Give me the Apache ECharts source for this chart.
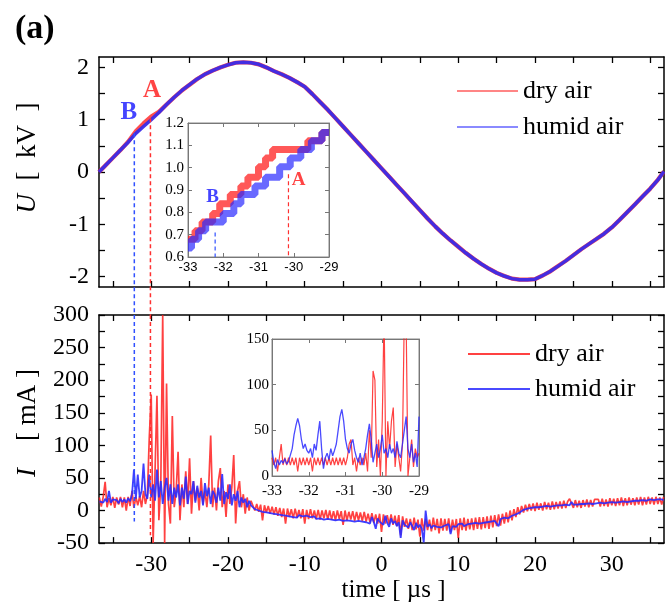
<!DOCTYPE html>
<html><head><meta charset="utf-8">
<script src="https://cdn.jsdelivr.net/npm/echarts@6/dist/echarts.min.js"></script>
<style>html,body{margin:0;padding:0;background:#fff}#c{width:665px;height:604px}</style>
</head><body><div id="c"></div>
<script>
// ---------------- DATA ----------------
// Top panel: voltage U [kV] vs time [µs]
const uTime = [-36.8,-36,-35,-34,-33,-32,-31,-30,-29,-28,-27,-26,-25,-24,-23,-22,-21,-20,-19,-18,-17,-16,-15,-14,-13,-12,-11,-10,-9,-8,-7,-6,-5,-4,-3,-2,-1,0,1,2,3,4,5,6,7,8,9,10,11,12,13,14,15,16,17,18,19,20,21,22,23,24,25,26,27,28,29,30,31,32,33,34,35,36,36.8];
const uHumid = [0.00,0.12,0.27,0.42,0.57,0.74,0.87,1.00,1.14,1.29,1.43,1.56,1.67,1.78,1.87,1.94,2.00,2.05,2.09,2.10,2.09,2.06,2.00,1.93,1.87,1.80,1.72,1.63,1.49,1.34,1.19,1.03,0.87,0.71,0.55,0.39,0.23,0.07,-0.09,-0.25,-0.41,-0.57,-0.73,-0.89,-1.04,-1.18,-1.31,-1.43,-1.55,-1.66,-1.76,-1.85,-1.93,-1.99,-2.04,-2.06,-2.06,-2.05,-1.98,-1.90,-1.80,-1.70,-1.59,-1.48,-1.38,-1.28,-1.18,-1.06,-0.92,-0.77,-0.62,-0.47,-0.32,-0.15,0.01];
const uDry   = [0.00,0.12,0.27,0.42,0.58,0.78,0.93,1.06,1.15,1.29,1.43,1.56,1.67,1.78,1.87,1.94,2.00,2.05,2.09,2.10,2.09,2.06,2.00,1.93,1.87,1.80,1.72,1.63,1.49,1.34,1.19,1.03,0.87,0.71,0.55,0.39,0.23,0.07,-0.09,-0.25,-0.41,-0.57,-0.73,-0.89,-1.04,-1.18,-1.31,-1.43,-1.55,-1.66,-1.76,-1.85,-1.93,-1.99,-2.04,-2.06,-2.06,-2.05,-1.98,-1.90,-1.80,-1.70,-1.59,-1.48,-1.38,-1.28,-1.18,-1.06,-0.92,-0.77,-0.62,-0.47,-0.32,-0.15,0.01];

// Bottom panel: current I [mA], sampled every 0.25 µs from -36.75 µs
const iStart = -36.75, iStep = 0.25;
const iDry = [
 20,6,21,44,5,19,8,21,4,20,9,21,5,20,0,21,7,30,4,21,
 8,22,5,30,10,24,112,178,-50,60,176,-15,40,300,-50,195,10,-20,145,5,
 30,90,-15,40,5,60,10,80,-5,45,15,35,0,50,10,30,5,40,115,5,
 35,0,45,65,5,30,-10,40,10,35,85,-20,30,45,5,25,-5,20,0,15,
 12,0,10,-2,9,-15,8,-3,7,-5,6,-6,5,-8,4,-10,3,-20,3,-10,
 2,-12,3,-11,1,-12,2,-20,1,-13,2,-12,0,-13,1,-14,0,-12,1,-14,
 0,-14,-1,-15,0,-13,-1,-22,0,-15,-2,-14,-1,-16,-2,-15,-3,-16,-2,-17,
 -5,-18,-4,-19,-6,-20,-5,-33,-6,-20,-7,-21,-6,-22,-8,-24,-7,-38,-9,-25,
 -12,-28,-13,-30,-11,-29,-14,-40,-12,-31,-13,-30,-14,-32,-11,-30,-13,-35,-12,-31,
 -13,-31,-12,-33,-14,-30,-13,-42,-12,-30,-11,-31,-13,-29,-12,-30,-11,-28,-10,-29,
 -10,-27,-9,-28,-8,-26,-7,-24,-6,-23,-5,-20,-3,-18,0,-15,2,-10,5,-6,
 7,-3,9,-1,10,0,11,-1,12,1,11,0,13,2,12,1,14,2,13,3,
 14,3,15,4,14,18,15,4,16,5,15,4,16,6,17,5,16,6,17,18,
 17,6,18,7,17,6,19,8,18,7,19,8,20,7,19,8,20,9,19,8,
 20,9,21,8,20,9,21,10,20,9,21,10,20,9,21
];
const iHumid = [
 14,17,12,18,13,30,12,17,14,16,11,18,13,17,12,19,14,25,63,18,
 55,20,30,72,25,18,55,20,40,15,63,20,45,10,35,50,15,40,10,35,
 20,40,8,35,18,52,10,30,25,45,12,38,20,30,8,42,22,35,10,30,
 25,12,35,15,56,10,28,18,40,8,25,15,30,5,20,12,18,5,15,8,
 7,2,5,0,3,-2,1,-3,0,-4,-2,-5,-3,-6,-4,-7,-5,-8,-6,-9,
 -7,-10,-8,-11,-7,-10,-9,-12,-8,-11,-10,-12,-9,-13,-11,-12,-10,-14,-11,-13,
 -12,-14,-11,-15,-13,-14,-12,-16,-13,-15,-14,-16,-13,-17,-14,-16,-15,-17,-14,-18,
 -15,-20,-10,-18,-28,-12,-17,-14,-22,-8,-19,-25,-12,-20,-16,-24,-18,-42,-15,-22,
 -20,-26,-18,-24,-30,-19,-26,-22,-28,-49,0,-25,-21,-27,-23,-20,-25,-22,-26,-24,
 -23,-26,-21,-36,-24,-22,-25,-21,-23,-20,-24,-22,-21,-23,-20,-22,-19,-21,-20,-18,
 -19,-17,-18,-16,-17,-15,-16,-14,-24,-13,-12,-11,-10,-12,-9,-8,-7,-6,-5,-3,
 -2,1,-1,3,1,4,2,5,3,5,3,6,4,7,4,6,5,7,5,8,
 5,8,6,9,6,8,13,9,7,9,7,10,8,10,8,11,9,10,9,11,
 9,12,10,11,10,12,11,13,10,12,11,13,11,14,12,13,12,14,12,15,
 13,15,12,16,14,15,13,17,14,16,14,17,15,17,16
];

// Top inset: U staircase, every 0.1 µs from -33 µs
const insUStart = -33, insUStep = 0.1;
const insUDry = [0.68,0.68,0.718,0.718,0.757,0.757,0.757,0.795,0.795,0.838,0.838,0.838,0.88,0.88,0.88,0.918,0.918,0.957,0.957,0.957,1.004,1.004,1.043,1.043,1.081,1.081,1.081,1.081,1.081,1.081,1.081,1.081,1.081,1.081,1.12,1.12,1.12,1.12,1.158,1.158,1.158];
const insUHumid = [0.64,0.68,0.68,0.718,0.718,0.757,0.757,0.757,0.757,0.757,0.795,0.795,0.795,0.838,0.838,0.88,0.88,0.88,0.88,0.918,0.918,0.918,0.957,0.957,0.957,0.957,1.004,1.004,1.004,1.043,1.043,1.043,1.081,1.081,1.081,1.12,1.12,1.12,1.158,1.158,1.158];

// Bottom inset: I, every 0.05 µs from -33 µs
const insIStart = -33, insIStep = 0.05;
const insIDry = [
 20,12,20,5,20,35,12,20,12,20,12,20,12,20,5,20,12,20,12,20,
 12,20,5,20,12,20,12,20,12,20,12,20,12,20,12,20,12,20,12,20,
 12,20,35,40,12,20,5,20,12,20,12,25,5,50,20,115,105,10,40,0,
 60,178,0,60,30,60,75,10,35,20,5,35,176,170,0,20,40,10,30,20,
 25
];
const insIHumid = [
 28,15,8,18,12,17,14,19,13,16,18,30,45,55,63,55,40,30,35,28,
 25,30,20,35,28,45,60,30,8,20,25,18,30,22,28,35,50,65,73,60,
 40,30,25,35,40,28,20,15,25,12,20,30,45,57,40,15,25,35,20,30,
 45,25,30,20,35,25,30,20,38,25,20,35,50,65,30,20,35,15,25,10,
 65
];

// Tick / label values
const tTicks = [-35,-30,-25,-20,-15,-10,-5,0,5,10,15,20,25,30,35];
const tLabels = [-30,-20,-10,0,10,20,30];
const uTicks = [-2,-1.5,-1,-0.5,0,0.5,1,1.5,2];
const uLabels = [-2,-1,0,1,2];
const iTicks = [-50,-25,0,25,50,75,100,125,150,175,200,225,250,275,300];
const iLabels = [-50,0,50,100,150,200,250,300];
const insTTicks = [-33,-32,-31,-30,-29];
const insUTicks = [0.6,0.7,0.8,0.9,1.0,1.1,1.2];
const insITicks = [0,50,100,150];

// Annotations (onset points A: dry air, B: humid air)
const onsetA = -30.1, onsetB = -32.2;

// ---------------- CHART ----------------
const SERIF = 'Liberation Serif', SANS = 'Liberation Sans';
const RED = '#ff2020', BLUE = '#2a2aff';
const pairs = (ts, vs) => vs.map((v, k) => [ts[k], v]);
const grid = (start, step, vs) => vs.map((v, k) => [Math.round((start + k * step) * 1000) / 1000, v]);

function axis(gi, pos, min, max, ticks, labels, o) {
  o = o || {};
  const inset = !!o.inset;
  const lc = inset ? '#777' : '#000';
  return Object.assign({
    type: 'value', gridIndex: gi, position: pos, min: min, max: max, z: inset ? 11 : 0,
    axisLine: { show: true, onZero: false, lineStyle: { color: lc, width: inset ? 1 : 1.5 } },
    axisTick: { show: true, inside: true, length: inset ? 4 : 6, customValues: ticks, lineStyle: { color: lc, width: inset ? 1 : 1.3 } },
    axisLabel: labels ? Object.assign({ show: true, customValues: labels, color: '#000', fontFamily: SERIF, fontSize: 24, margin: 10 }, o.label || {}) : { show: false },
    splitLine: { show: false }
  }, o.extra || {});
}

const chart = echarts.init(document.getElementById('c'), null, { renderer: 'canvas' });

const labelScatter = (xi, yi, items, size, z) => ({
  type: 'scatter', xAxisIndex: xi, yAxisIndex: yi, symbolSize: 1, silent: true, z: z,
  itemStyle: { color: 'rgba(0,0,0,0)' },
  label: { show: true, position: 'inside', fontFamily: SERIF, fontWeight: 'bold', fontSize: size },
  data: items
});
const guide = (xi, yi, pts, color, w, z) => ({
  type: 'line', name: '_g', xAxisIndex: xi, yAxisIndex: yi, clip: false, symbol: 'none', silent: true, z: z,
  lineStyle: { color: color, width: w, type: [4, 3] }, data: pts
});

const legendCommon = {
  data: ['dry air', 'humid air'], orient: 'vertical', icon: 'rect', itemHeight: 2,
  textStyle: { fontFamily: SERIF, fontSize: 26, lineHeight: 26, color: '#000' }
};

const option = {
  animation: false,
  backgroundColor: '#fff',
  textStyle: { fontFamily: SERIF },
  title: { text: '(a)', left: 10, top: 7, textStyle: { fontFamily: SERIF, fontWeight: 'bold', fontSize: 34, color: '#000' } },
  legend: [
    Object.assign({}, legendCommon, { left: 452, top: 73, itemWidth: 61, itemGap: 10, itemStyle: { opacity: 0.55 } }),
    Object.assign({}, legendCommon, { left: 463, top: 336, itemWidth: 62, itemGap: 9, itemStyle: { opacity: 0.85 } })
  ],
  grid: [
    { left: 99, top: 57, width: 565, height: 230 },
    { left: 99, top: 315, width: 565, height: 232 },
    { show: true, left: 188, top: 123, width: 141, height: 134, backgroundColor: '#fff', borderColor: '#888', borderWidth: 1, z: 10 },
    { show: true, left: 272, top: 339, width: 147, height: 137, backgroundColor: '#fff', borderColor: '#888', borderWidth: 1, z: 10 }
  ],
  xAxis: [
    axis(0, 'bottom', -36.8, 36.8, tTicks, null),
    axis(0, 'top', -36.8, 36.8, tTicks, null),
    axis(1, 'bottom', -36.8, 36.8, tTicks, tLabels, { extra: {
      name: 'time [ µs ]', nameLocation: 'middle', nameGap: 30,
      nameTextStyle: { fontFamily: SERIF, fontSize: 25, color: '#000', padding: [0, 0, 0, 24] } } }),
    axis(1, 'top', -36.8, 36.8, tTicks, null),
    axis(2, 'bottom', -33, -29, insTTicks, insTTicks, { inset: true, label: { fontFamily: SANS, fontSize: 13, margin: 4 } }),
    axis(2, 'top', -33, -29, insTTicks, null, { inset: true }),
    axis(3, 'bottom', -33, -29, insTTicks, insTTicks, { inset: true, label: { fontSize: 15, margin: 8 } }),
    axis(3, 'top', -33, -29, insTTicks, null, { inset: true })
  ],
  yAxis: [
    axis(0, 'left', -2.2, 2.2, uTicks, uLabels, { extra: {
      name: '{i|U}{n|  [  kV  ]}', nameLocation: 'middle', nameGap: 58,
      nameTextStyle: { padding: [0, 0, 0, 28], rich: {
        i: { fontFamily: SERIF, fontStyle: 'italic', fontSize: 27, color: '#000' },
        n: { fontFamily: SERIF, fontSize: 27, color: '#000' } } } } }),
    axis(0, 'right', -2.2, 2.2, uTicks, null),
    axis(1, 'left', -50, 300, iTicks, iLabels, { extra: {
      name: '{i|I}{n|    [ mA ]}', nameLocation: 'middle', nameGap: 58,
      nameTextStyle: { padding: [0, 0, 0, 12], rich: {
        i: { fontFamily: SERIF, fontStyle: 'italic', fontSize: 27, color: '#000' },
        n: { fontFamily: SERIF, fontSize: 27, color: '#000' } } } } }),
    axis(1, 'right', -50, 300, iTicks, null),
    axis(2, 'left', 0.6, 1.2, insUTicks, insUTicks, { inset: true, label: { fontSize: 15, margin: 4, formatter: v => v.toFixed(1) } }),
    axis(2, 'right', 0.6, 1.2, insUTicks, null, { inset: true }),
    axis(3, 'left', 0, 150, insITicks, insITicks, { inset: true, label: { fontSize: 15, margin: 3 } }),
    axis(3, 'right', 0, 150, insITicks, null, { inset: true })
  ],
  series: [
    // top main
    { type: 'line', name: 'dry air', xAxisIndex: 0, yAxisIndex: 0, symbol: 'none', z: 2,
      lineStyle: { color: RED, width: 4.2, opacity: 0.8 }, itemStyle: { color: RED }, data: pairs(uTime, uDry) },
    { type: 'line', name: 'humid air', xAxisIndex: 0, yAxisIndex: 0, symbol: 'none', z: 3,
      lineStyle: { color: '#3a2ae8', width: 3.5, opacity: 0.95 }, itemStyle: { color: BLUE }, data: pairs(uTime, uHumid) },
    guide(0, 0, [[onsetB, 0.74], [onsetB, -2.75]], '#3050ff', 1.5, 4),
    guide(0, 0, [[onsetA, 1.03], [onsetA, -2.75]], '#ff3030', 1.5, 4),
    labelScatter(0, 0, [
      { value: [-32.9, 1.13], label: { formatter: 'B', color: '#1515ff' } },
      { value: [-29.9, 1.55], label: { formatter: 'A', color: '#ff1515' } }], 25, 5),
    // bottom main
    { type: 'line', name: 'dry air', xAxisIndex: 2, yAxisIndex: 2, symbol: 'none', z: 2,
      lineStyle: { color: RED, width: 1.7, opacity: 0.85 }, itemStyle: { color: RED }, data: grid(iStart, iStep, iDry) },
    { type: 'line', name: 'humid air', xAxisIndex: 2, yAxisIndex: 2, symbol: 'none', z: 3,
      lineStyle: { color: BLUE, width: 1.8, opacity: 0.9 }, itemStyle: { color: BLUE }, data: grid(iStart, iStep, iHumid) },
    guide(2, 2, [[onsetB, 300], [onsetB, -17]], '#3050ff', 1.5, 4),
    guide(2, 2, [[onsetA, 300], [onsetA, -38]], '#ff3030', 1.5, 4),
    // top inset
    { type: 'line', name: 'dry air', xAxisIndex: 4, yAxisIndex: 4, symbol: 'none', step: 'end', z: 12,
      lineStyle: { color: RED, width: 7, opacity: 0.75 }, itemStyle: { color: RED }, data: grid(insUStart, insUStep, insUDry) },
    { type: 'line', name: 'humid air', xAxisIndex: 4, yAxisIndex: 4, symbol: 'none', step: 'end', z: 13,
      lineStyle: { color: BLUE, width: 7, opacity: 0.7 }, itemStyle: { color: BLUE }, data: grid(insUStart, insUStep, insUHumid) },
    guide(4, 4, [[-32.23, 0.71], [-32.23, 0.6]], '#3050ff', 1.2, 14),
    guide(4, 4, [[-30.15, 0.97], [-30.15, 0.6]], '#ff3030', 1.2, 14),
    labelScatter(4, 4, [
      { value: [-32.3, 0.869], label: { formatter: 'B', color: '#1515ff' } },
      { value: [-29.86, 0.945], label: { formatter: 'A', color: '#ff1515' } }], 19, 15),
    // bottom inset
    { type: 'line', name: 'dry air', xAxisIndex: 6, yAxisIndex: 6, symbol: 'none', z: 12,
      lineStyle: { color: RED, width: 1.2, opacity: 0.85 }, itemStyle: { color: RED }, data: grid(insIStart, insIStep, insIDry) },
    { type: 'line', name: 'humid air', xAxisIndex: 6, yAxisIndex: 6, symbol: 'none', z: 13,
      lineStyle: { color: BLUE, width: 1.3, opacity: 0.85 }, itemStyle: { color: BLUE }, data: grid(insIStart, insIStep, insIHumid) }
  ]
};
chart.setOption(option);
</script></body></html>
